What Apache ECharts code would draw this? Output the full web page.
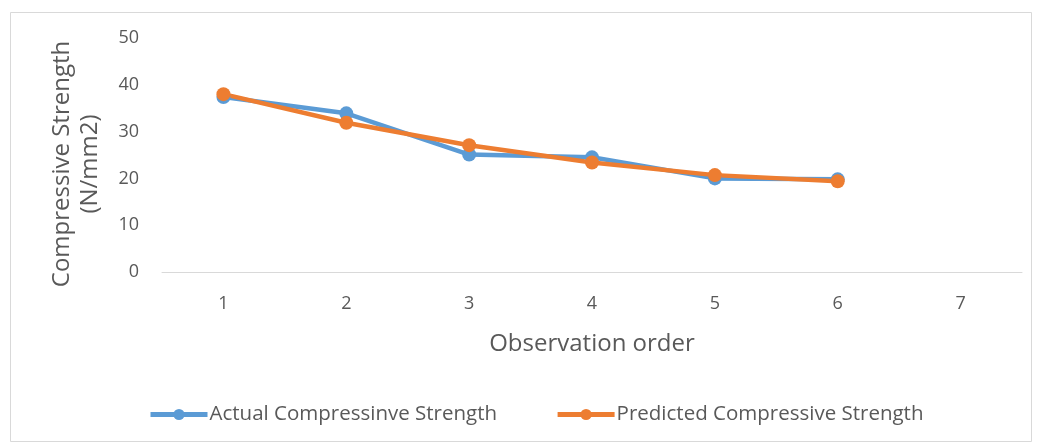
<!DOCTYPE html>
<html>
<head>
<meta charset="utf-8">
<script src="https://cdn.jsdelivr.net/npm/echarts@6/dist/echarts.min.js"></script>
<style>html,body{margin:0;padding:0;background:#fff;}#c{width:1040px;height:445px;}</style>
</head>
<body>
<div id="c"></div>
<script>
const categories = ['1', '2', '3', '4', '5', '6', '7'];
const actual = [37.4, 33.9, 25.1, 24.5, 20.0, 19.8];
const predicted = [38.0, 31.9, 27.1, 23.4, 20.7, 19.4];
const seriesNames = ['Actual Compressinve Strength', 'Predicted Compressive Strength'];
const yTitle = 'Compressive Strength\n(N/mm2)';
const xTitle = 'Observation order';

const font = '"Open Sans", "Noto Sans", sans-serif';
const textColor = '#595959';
const chart = echarts.init(document.getElementById('c'));
chart.setOption({
  animation: false,
  backgroundColor: '#fff',
  graphic: [{
    type: 'rect', left: 8, top: 10, shape: {width: 1021, height: 429},
    style: {fill: 'none', stroke: '#d9d9d9', lineWidth: 1}, silent: true
  }, {
    type: 'text', x: 76, y: 164, rotation: Math.PI / 2,
    style: {text: yTitle, fill: textColor, font: '24px ' + font, align: 'center',
            verticalAlign: 'middle', lineHeight: 28}
  }],
  grid: {left: 162, right: 18, top: 38, bottom: 173},
  legend: {
    top: 399, left: 143, itemWidth: 57, itemHeight: 14, itemGap: 58,
    lineStyle: {width: 5},
    textStyle: {color: textColor, fontSize: 20.5, fontFamily: font, padding: [0, 0, 0, -3]},
    data: seriesNames
  },
  xAxis: {
    type: 'category', data: categories, boundaryGap: true,
    name: xTitle, nameLocation: 'middle', nameGap: 60,
    nameTextStyle: {color: textColor, fontSize: 24, fontFamily: font},
    axisLine: {lineStyle: {color: '#d9d9d9', width: 1}},
    axisTick: {show: false},
    axisLabel: {color: textColor, fontSize: 18, fontFamily: font, margin: 23}
  },
  yAxis: {
    type: 'value', min: 0, max: 50, interval: 10,
    axisLine: {show: false}, axisTick: {show: false},
    splitLine: {show: false},
    axisLabel: {color: textColor, fontSize: 18, fontFamily: font, margin: 23}
  },
  series: [{
    name: seriesNames[0], type: 'line', data: actual,
    symbol: 'circle', symbolSize: 14,
    lineStyle: {color: '#5B9BD5', width: 4.5},
    itemStyle: {color: '#5B9BD5'}
  }, {
    name: seriesNames[1], type: 'line', data: predicted,
    symbol: 'circle', symbolSize: 14,
    lineStyle: {color: '#ED7D31', width: 4.5},
    itemStyle: {color: '#ED7D31'}
  }]
});
</script>
</body>
</html>
